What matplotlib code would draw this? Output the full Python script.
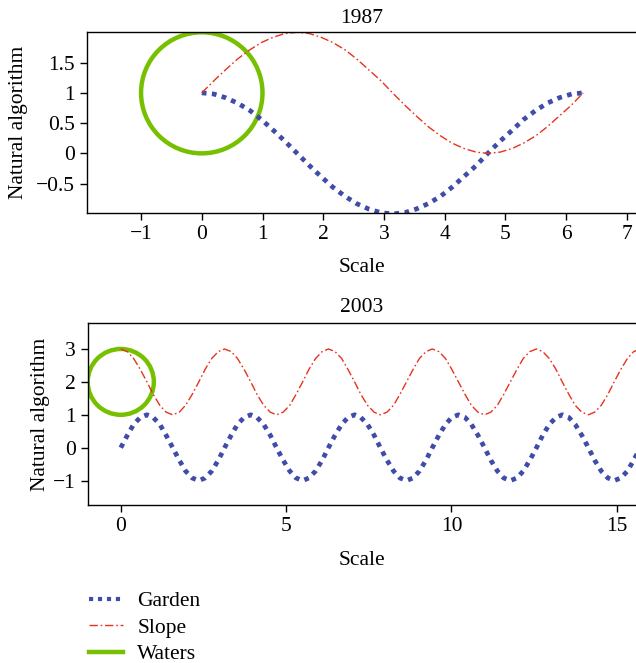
# two panels of the garden / slope / waters curves
import matplotlib
matplotlib.use("Agg")
import matplotlib.pyplot as plt
from matplotlib.patches import Circle
from matplotlib.lines import Line2D
from matplotlib.ticker import FuncFormatter

plt.rcParams["font.family"] = ["Liberation Serif", "DejaVu Serif"]
plt.rcParams["font.size"] = 15.5

# panel 1987
top_x = [0.00, 0.20, 0.39, 0.59, 0.79, 0.98, 1.18, 1.37, 1.57, 1.77, 1.96,
         2.16, 2.36, 2.55, 2.75, 2.95, 3.14, 3.34, 3.53, 3.73, 3.93, 4.12,
         4.32, 4.52, 4.71, 4.91, 5.11, 5.30, 5.50, 5.69, 5.89, 6.09, 6.28]
top_garden = [1.00, 0.98, 0.92, 0.83, 0.71, 0.56, 0.38, 0.20, 0.00, -0.20, -0.38,
              -0.56, -0.71, -0.83, -0.92, -0.98, -1.00, -0.98, -0.92, -0.83, -0.71, -0.56,
              -0.38, -0.20, 0.00, 0.20, 0.38, 0.56, 0.71, 0.83, 0.92, 0.98, 1.00]
top_slope = [1.00, 1.20, 1.38, 1.56, 1.71, 1.83, 1.92, 1.98, 2.00, 1.98, 1.92,
             1.83, 1.71, 1.56, 1.38, 1.20, 1.00, 0.80, 0.62, 0.44, 0.29, 0.17,
             0.08, 0.02, 0.00, 0.02, 0.08, 0.17, 0.29, 0.44, 0.62, 0.80, 1.00]
top_waters_center = (0, 1)
top_waters_radius = 1

# panel 2003
bot_x = [0.00, 0.20, 0.39, 0.59, 0.79, 0.98, 1.18, 1.37, 1.57, 1.77, 1.96, 2.16,
         2.36, 2.55, 2.75, 2.95, 3.14, 3.34, 3.53, 3.73, 3.93, 4.12, 4.32, 4.52,
         4.71, 4.91, 5.11, 5.30, 5.50, 5.69, 5.89, 6.09, 6.28, 6.48, 6.68, 6.87,
         7.07, 7.26, 7.46, 7.66, 7.85, 8.05, 8.25, 8.44, 8.64, 8.84, 9.03, 9.23,
         9.42, 9.62, 9.82, 10.01, 10.21, 10.41, 10.60, 10.80, 11.00, 11.19, 11.39, 11.58,
         11.78, 11.98, 12.17, 12.37, 12.57, 12.76, 12.96, 13.16, 13.35, 13.55, 13.74, 13.94,
         14.14, 14.33, 14.53, 14.73, 14.92, 15.12, 15.32, 15.51, 15.71]
bot_garden = [0.00, 0.38, 0.71, 0.92, 1.00, 0.92, 0.71, 0.38, 0.00, -0.38, -0.71, -0.92, -1.00, -0.92, -0.71, -0.38,
              0.00, 0.38, 0.71, 0.92, 1.00, 0.92, 0.71, 0.38, 0.00, -0.38, -0.71, -0.92, -1.00, -0.92, -0.71, -0.38,
              0.00, 0.38, 0.71, 0.92, 1.00, 0.92, 0.71, 0.38, 0.00, -0.38, -0.71, -0.92, -1.00, -0.92, -0.71, -0.38,
              0.00, 0.38, 0.71, 0.92, 1.00, 0.92, 0.71, 0.38, 0.00, -0.38, -0.71, -0.92, -1.00, -0.92, -0.71, -0.38,
              0.00, 0.38, 0.71, 0.92, 1.00, 0.92, 0.71, 0.38, 0.00, -0.38, -0.71, -0.92, -1.00, -0.92, -0.71, -0.38,
              0.00]
bot_slope = [3.00, 2.92, 2.71, 2.38, 2.00, 1.62, 1.29, 1.08, 1.00, 1.08, 1.29, 1.62, 2.00, 2.38, 2.71, 2.92,
             3.00, 2.92, 2.71, 2.38, 2.00, 1.62, 1.29, 1.08, 1.00, 1.08, 1.29, 1.62, 2.00, 2.38, 2.71, 2.92,
             3.00, 2.92, 2.71, 2.38, 2.00, 1.62, 1.29, 1.08, 1.00, 1.08, 1.29, 1.62, 2.00, 2.38, 2.71, 2.92,
             3.00, 2.92, 2.71, 2.38, 2.00, 1.62, 1.29, 1.08, 1.00, 1.08, 1.29, 1.62, 2.00, 2.38, 2.71, 2.92,
             3.00, 2.92, 2.71, 2.38, 2.00, 1.62, 1.29, 1.08, 1.00, 1.08, 1.29, 1.62, 2.00, 2.38, 2.71, 2.92,
             3.00]
bot_waters_center = (0, 2)
bot_waters_radius = 1

labels = ["Garden", "Slope", "Waters"]
titles = ["1987", "2003"]

BLUE = "#3f4ca8"
RED = "#e8321e"
GREEN = "#76c000"
FS = 15.5


def fmt(v, pos):
    return ("%g" % v).replace("-", "\u2212")


def drawPanel(ax, x, garden, slope, center, radius):
    ax.plot(x, garden, color=BLUE, lw=3.4, dashes=(1, 1.15), dash_capstyle="butt")
    ax.plot(x, slope, color=RED, lw=1.0, dashes=(6, 2, 1.2, 2))
    ax.add_patch(Circle(center, radius, fill=False, edgecolor=GREEN, lw=3.2))
    ax.set_xlabel("Scale", fontsize=FS)
    ax.set_ylabel("Natural algorithm", fontsize=FS)
    ax.spines["right"].set_visible(False)
    for s in ["left", "bottom", "top"]:
        ax.spines[s].set_linewidth(1.0)
    ax.tick_params(direction="out", length=5, width=1.0, pad=3.5, top=False, right=False,
                   labelsize=FS)
    ax.yaxis.set_major_formatter(FuncFormatter(fmt))
    ax.xaxis.set_major_formatter(FuncFormatter(fmt))


fig = plt.figure(figsize=(6.36, 6.63), dpi=100)
ax1 = fig.add_axes([87 / 636, 1 - 213.3 / 663, 1 - 87 / 636, 181 / 663])
ax2 = fig.add_axes([87.7 / 636, 1 - 505.3 / 663, 1 - 87.7 / 636, 182 / 663])

drawPanel(ax1, top_x, top_garden, top_slope, top_waters_center, top_waters_radius)
ax1.set_xlim(-1.89, 7.15)
ax1.set_ylim(-0.99, 2.0)
ax1.set_xticks([-1, 0, 1, 2, 3, 4, 5, 6, 7])
ax1.set_yticks([-0.5, 0, 0.5, 1, 1.5])
ax1.set_title(titles[0], fontsize=FS, pad=6.5)
ax1.yaxis.set_label_coords(-0.107, 0.5)
ax1.xaxis.set_label_coords(0.5, -0.245)

drawPanel(ax2, bot_x, bot_garden, bot_slope, bot_waters_center, bot_waters_radius)
ax2.set_xlim(-1.0, 15.58)
ax2.set_ylim(-1.75, 3.78)
ax2.set_xticks([0, 5, 10, 15])
ax2.set_yticks([-1, 0, 1, 2, 3])
ax2.set_title(titles[1], fontsize=FS, pad=8)
ax2.yaxis.set_label_coords(-0.068, 0.5)
ax2.xaxis.set_label_coords(0.5, -0.25)

handles = [
    Line2D([], [], color=BLUE, lw=3.0, dashes=(1, 1.15), dash_capstyle="butt"),
    Line2D([], [], color=RED, lw=1.0, dashes=(6, 2, 1.2, 2)),
    Line2D([], [], color=GREEN, lw=3.2),
]
fig.legend(handles, labels, loc="upper left", bbox_to_anchor=(89 / 636, 1 - 591 / 663),
           frameon=False, borderpad=0, borderaxespad=0, handlelength=1.6,
           handletextpad=0.65, labelspacing=0.3, fontsize=FS)

fig.savefig("out.png", dpi=100)
